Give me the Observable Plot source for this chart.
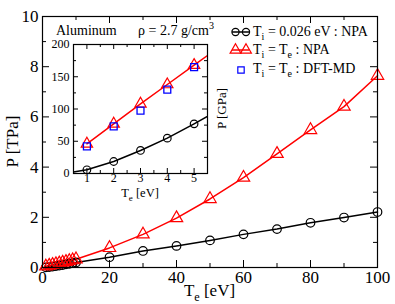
<!DOCTYPE html>
<html><head><meta charset="utf-8">
<script src="https://cdn.jsdelivr.net/npm/d3@7"></script>
<script src="https://cdn.jsdelivr.net/npm/@observablehq/plot@0.6"></script>
<style>
body{margin:0;background:#fff;}
#wrap{position:relative;width:395px;height:304px;font-family:"Liberation Serif","Times New Roman",serif;}
#wrap svg{position:absolute;left:0;top:0;overflow:visible;}
#wrap svg text{font-family:"Liberation Serif","Times New Roman",serif !important;}
</style></head><body><div id="wrap"></div>
<script>
// Electron temperature (eV)
const Te = [1,2,3,4,5,6,7,8,9,10,20,30,40,50,60,70,80,90,100];
// Pressure (GPa), Ti = 0.026 eV : NPA
const P_cold = [5.7,18.6,35.7,54.8,77,100,124,149,175,200,410,660,860,1080,1320,1530,1780,1990,2210];
// Pressure (GPa), Ti = Te : NPA
const P_hot = [46,77,108,138,168,198,228,260,292,330,780,1320,1970,2730,3580,4530,5480,6410,7640];
// DFT-MD
const Te_dft = [1,2,3,4,5];
const P_dft = [42,73,97.5,130,165];
// start of the cold-ion curve (line only)
const coldLineStart = {Te: 0.5, P: 2.5};
// ticks
const xTicksMain = [0,20,40,60,80,100];
const yTicksMain = [0,2,4,6,8,10];
const xMinorMain = [10,30,50,70,90];
const yMinorMain = [1,3,5,7,9];
const xTicksInset = [1,2,3,4,5];
const yTicksInset = [0,50,100,150,200];
const xMinorInset = [1.5,2.5,3.5,4.5];
const yMinorInset = [25,75,125,175];

const cold = Te.map((t,i)=>({Te:t, P:P_cold[i]}));
const hot = Te.map((t,i)=>({Te:t, P:P_hot[i]}));
const dft = Te_dft.map((t,i)=>({Te:t, P:P_dft[i]}));
const coldLine = [coldLineStart, ...cold];

const FONT = "Liberation Serif, Times New Roman, serif";
const wrap = document.getElementById("wrap");

function tickMarks(xT, yT, xm, ym, fw, fh, big, small){
  const m = [];
  for (const [arr, len] of [[yT,big],[ym,small]]) {
    m.push(Plot.tickY(arr, {y:d=>d, insetRight: fw-len, stroke:"black"}));
    m.push(Plot.tickY(arr, {y:d=>d, insetLeft: fw-len, stroke:"black"}));
  }
  for (const [arr, len] of [[xT,big],[xm,small]]) {
    m.push(Plot.tickX(arr, {x:d=>d, insetTop: fh-len, stroke:"black"}));
    m.push(Plot.tickX(arr, {x:d=>d, insetBottom: fh-len, stroke:"black"}));
  }
  return m;
}

// ---------- main plot ----------
const mW=395, mH=304, mL=42, mR=18, mT=16, mB=37;
const main = Plot.plot({
  width:mW, height:mH, marginLeft:mL, marginRight:mR, marginTop:mT, marginBottom:mB,
  style:{fontFamily:FONT, fontSize:"17px", background:"transparent", color:"#000"},
  x:{domain:[0,100]}, y:{domain:[0,10]},
  marks:[
    Plot.axisX({ticks:xTicksMain, tickSize:0, tickPadding:3, label:null, fontSize:17, fontFamily:FONT, tickFormat:"d"}),
    Plot.axisY({ticks:yTicksMain, tickSize:0, tickPadding:4, label:null, fontSize:17, fontFamily:FONT, tickFormat:"d"}),
    ...tickMarks(xTicksMain, yTicksMain, xMinorMain, yMinorMain, mW-mL-mR, mH-mT-mB, 7, 4),
    Plot.line(coldLine, {x:"Te", y:d=>d.P/1000, stroke:"black", strokeWidth:1.5}),
    Plot.line(hot, {x:"Te", y:d=>d.P/1000, stroke:"red", strokeWidth:1.5}),
    Plot.dot(cold, {x:"Te", y:d=>d.P/1000, r:4.3, stroke:"black", strokeWidth:1.2, fill:"none"}),
    Plot.dot(hot, {x:"Te", y:d=>d.P/1000, symbol:"triangle", r:4.6, stroke:"red", strokeWidth:1.2, fill:"none"}),
    Plot.frame({stroke:"black", strokeWidth:1.2})
  ]
});
wrap.appendChild(main);

function richText(parent, x, y, parts, size, opts={}){
  const t = d3.select(parent).append("text")
    .attr("x", x).attr("y", y)
    .attr("font-family", FONT).attr("font-size", size)
    .attr("fill", "black")
    .attr("text-anchor", opts.anchor || "start");
  if (opts.rotate) t.attr("transform", `rotate(${opts.rotate},${x},${y})`);
  let shift = 0;
  for (const [s, kind] of parts) {
    const sp = t.append("tspan").text(s);
    let target = 0;
    if (kind === "sub") { target = size*0.32; sp.attr("font-size", size*0.72); }
    else if (kind === "sup") { target = -size*0.4; sp.attr("font-size", size*0.72); }
    if (target !== shift) { sp.attr("dy", target - shift); shift = target; }
  }
  return t;
}

const ms = d3.select(main);
const mg = ms.append("g").node();
richText(mg, 209.5, 296, [["T"],["e","sub"],[" [eV]"]], 17, {anchor:"middle"});
richText(mg, 18, 141.5, [["P [TPa]"]], 17, {anchor:"middle", rotate:-90});
richText(mg, 56, 35, [["Aluminum"]], 14);
richText(mg, 138, 35, [["ρ = 2.7 g/cm"],["3","sup"]], 14);

// legend
const lg = d3.select(mg);
lg.append("line").attr("x1",232).attr("x2",249).attr("y1",32).attr("y2",32).attr("stroke","black").attr("stroke-width",1.5);
for (const cx of [235.5,246]) lg.append("circle").attr("cx",cx).attr("cy",32).attr("r",3.6).attr("fill","none").attr("stroke","black").attr("stroke-width",1.2);
richText(mg, 253, 36, [["T"],["i","sub"],[" = 0.026 eV : NPA"]], 14);
lg.append("line").attr("x1",232).attr("x2",249).attr("y1",50).attr("y2",50).attr("stroke","red").attr("stroke-width",1.5);
for (const cx of [235.5,246]) lg.append("path").attr("d", d3.symbol(d3.symbolTriangle, 4*4*Math.PI)()).attr("transform",`translate(${cx},50)`).attr("fill","none").attr("stroke","red").attr("stroke-width",1.2);
richText(mg, 253, 54, [["T"],["i","sub"],[" = T"],["e","sub"],[" : NPA"]], 14);
lg.append("path").attr("d", d3.symbol(d3.symbolSquare, 3.6*3.6*Math.PI)()).attr("transform","translate(241,70)").attr("fill","none").attr("stroke","blue").attr("stroke-width",1.2);
richText(mg, 253, 73, [["T"],["i","sub"],[" = T"],["e","sub"],[" : DFT-MD"]], 14);

// ---------- inset ----------
const iX=40, iY=30, iW=190, iH=175, iL=33, iR=23, iT=14, iB=32;
const inset = Plot.plot({
  width:iW, height:iH, marginLeft:iL, marginRight:iR, marginTop:iT, marginBottom:iB,
  style:{fontFamily:FONT, fontSize:"12px", background:"transparent", color:"#000"},
  x:{domain:[0.5,5.5]}, y:{domain:[0,200]},
  marks:[
    Plot.frame({fill:"white", stroke:"none"}),
    Plot.axisX({ticks:xTicksInset, tickSize:0, tickPadding:0, label:null, fontSize:12, fontFamily:FONT, tickFormat:"d"}),
    Plot.axisY({ticks:yTicksInset, tickSize:0, tickPadding:4, label:null, fontSize:12, fontFamily:FONT, tickFormat:"d"}),
    ...tickMarks(xTicksInset, yTicksInset, xMinorInset, yMinorInset, iW-iL-iR, iH-iT-iB, 5, 3),
    Plot.line(coldLine, {x:"Te", y:"P", stroke:"black", strokeWidth:1.5, clip:true}),
    Plot.line(hot, {x:"Te", y:"P", stroke:"red", strokeWidth:1.5, clip:true}),
    Plot.dot(cold, {x:"Te", y:"P", r:3.8, stroke:"black", strokeWidth:1.2, fill:"none", clip:true}),
    Plot.dot(hot, {x:"Te", y:"P", symbol:"triangle", r:4.2, stroke:"red", strokeWidth:1.2, fill:"none", clip:true}),
    Plot.dot(dft, {x:"Te", y:"P", symbol:"square", r:3.9, stroke:"blue", strokeWidth:1.3, fill:"none", clip:true}),
    Plot.frame({stroke:"black", strokeWidth:1.2})
  ]
});
inset.style.left = iX + "px";
inset.style.top = iY + "px";
wrap.appendChild(inset);
const ig = d3.select(inset).append("g").node();
richText(ig, 140-iX, 197-iY, [["T"],["e","sub"],[" [eV]"]], 12.5, {anchor:"middle"});
richText(ig, 226-iX, 108.5-iY, [["P [GPa]"]], 13, {anchor:"middle", rotate:-90});
</script></body></html>
